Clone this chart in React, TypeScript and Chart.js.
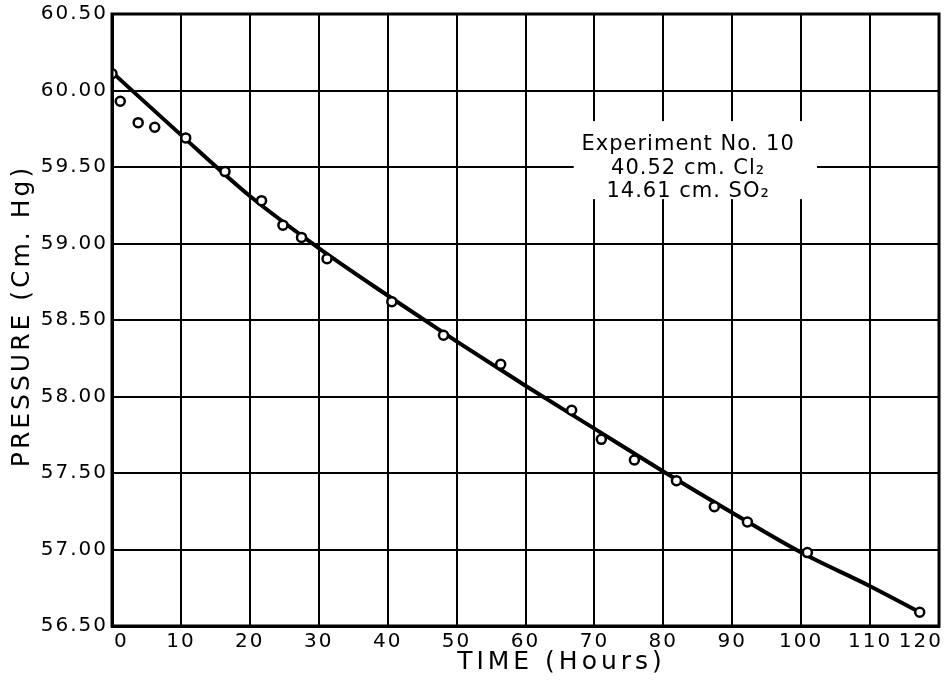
import { useEffect, useRef } from 'react';
import { Chart, registerables } from 'chart.js';

Chart.register(...registerables);

// Observed data points (open circles)
const timeHours = [0, 1.2, 3.8, 6.2, 10.7, 16.4, 21.7, 24.8, 27.5, 31.2, 40.6, 48.1, 56.4, 66.7, 71.0, 75.8, 81.9, 87.4, 92.2, 100.9, 117.2];
const pressure = [60.11, 59.93, 59.79, 59.76, 59.69, 59.47, 59.28, 59.12, 59.04, 58.90, 58.62, 58.40, 58.21, 57.91, 57.72, 57.585, 57.45, 57.28, 57.18, 56.98, 56.59];

// Smooth fitted curve
const curveHours = [0, 10, 20, 30, 40, 50, 60, 70, 80, 90, 100, 110, 117.2];
const curvePressure = [60.12, 59.71, 59.31, 58.97, 58.66, 58.36, 58.07, 57.79, 57.51, 57.24, 56.98, 56.76, 56.59];

// Axis ticks
const xTicks = [0, 10, 20, 30, 40, 50, 60, 70, 80, 90, 100, 110, 120];
const yTicks = [56.5, 57.0, 57.5, 58.0, 58.5, 59.0, 59.5, 60.0, 60.5];

const annotationLines = ['Experiment No. 10', '40.52 cm. Cl₂', '14.61 cm. SO₂'];
const xTitle = 'TIME (Hours)';
const yTitle = 'PRESSURE (Cm. Hg)';

const FONT = '"DejaVu Sans", sans-serif';

export default function App() {
  const ref = useRef<HTMLCanvasElement | null>(null);

  useEffect(() => {
    document.body.style.margin = '0';
    const canvas = ref.current;
    if (!canvas) return;

    const decorPlugin = {
      id: 'decor',
      beforeDraw(chart: any) {
        const ctx = chart.ctx;
        (ctx as any).letterSpacing = '2px';
        ctx.save();
        ctx.fillStyle = '#ffffff';
        ctx.fillRect(0, 0, chart.width, chart.height);
        ctx.restore();
      },
      beforeDatasetsDraw(chart: any) {
        const ctx = chart.ctx;
        const xs = chart.scales.x;
        const ys = chart.scales.y;
        // white label box over grid
        const x0 = xs.getPixelForValue(67);
        const x1 = xs.getPixelForValue(102.3);
        const y0 = ys.getPixelForValue(59.8);
        const y1 = ys.getPixelForValue(59.29);
        ctx.save();
        ctx.fillStyle = '#ffffff';
        ctx.fillRect(x0, y0, x1 - x0, y1 - y0);
        ctx.fillStyle = '#000000';
        ctx.font = `21px ${FONT}`;
        (ctx as any).letterSpacing = '1px';
        ctx.textAlign = 'center';
        ctx.textBaseline = 'middle';
        const cx = xs.getPixelForValue(83.6);
        const rows = [59.65, 59.49, 59.34];
        annotationLines.forEach((t, i) => {
          ctx.fillText(t, cx, ys.getPixelForValue(rows[i]));
        });
        ctx.restore();
      },
      afterDraw(chart: any) {
        const ctx = chart.ctx;
        const a = chart.chartArea;
        const xs = chart.scales.x;
        ctx.save();
        ctx.strokeStyle = '#000000';
        ctx.lineWidth = 3;
        ctx.strokeRect(a.left, a.top, a.right - a.left, a.bottom - a.top);
        ctx.fillStyle = '#000000';
        // x tick labels, kept inside the canvas at both ends
        ctx.font = `20px ${FONT}`;
        (ctx as any).letterSpacing = '2px';
        ctx.textAlign = 'left';
        ctx.textBaseline = 'middle';
        xTicks.forEach((v) => {
          const label = String(v);
          const w = ctx.measureText(label).width;
          let left = xs.getPixelForValue(v) - w / 2;
          if (left < a.left + 2) left = a.left + 2;
          if (left + w > chart.width - 1) left = chart.width - 1 - w;
          ctx.fillText(label, left, a.bottom + 16);
        });
        ctx.textAlign = 'center';
        ctx.font = `25px ${FONT}`;
        (ctx as any).letterSpacing = '4px';
        ctx.fillText(xTitle, (a.left + a.right) / 2 + 36, a.bottom + 36);
        ctx.translate(22, (a.top + a.bottom) / 2 - 4);
        ctx.rotate(-Math.PI / 2);
        (ctx as any).letterSpacing = '3px';
        ctx.fillText(yTitle, 0, 0);
        ctx.restore();
      },
    };

    const chart = new Chart(canvas, {
      type: 'scatter',
      data: {
        datasets: [
          {
            label: 'Observed',
            data: timeHours.map((x, i) => ({ x, y: pressure[i] })),
            showLine: false,
            pointRadius: 4.5,
            pointBorderWidth: 2.5,
            pointBackgroundColor: '#ffffff',
            pointBorderColor: '#000000',
            order: 0,
          },
          {
            label: 'Curve',
            data: curveHours.map((x, i) => ({ x, y: curvePressure[i] })),
            showLine: true,
            borderColor: '#000000',
            borderWidth: 4,
            pointRadius: 0,
            cubicInterpolationMode: 'monotone',
            order: 1,
          },
        ],
      },
      options: {
        responsive: false,
        animation: false,
        layout: { autoPadding: false, padding: { left: 0, right: 5, top: 14, bottom: 0 } },
        plugins: { legend: { display: false }, tooltip: { enabled: false } },
        scales: {
          x: {
            type: 'linear',
            min: 0,
            max: 120,
            afterBuildTicks: (s: any) => {
              s.ticks = xTicks.map((v) => ({ value: v }));
            },
            afterFit: (s: any) => {
              s.height = 55;
              s.paddingLeft = 0;
              s.paddingRight = 0;
            },
            grid: { color: '#000000', lineWidth: 2, drawTicks: false },
            border: { display: true, color: '#000000', width: 3 },
            ticks: {
              display: false,
              autoSkip: false,
            },
          },
          y: {
            type: 'linear',
            min: 56.5,
            max: 60.5,
            afterBuildTicks: (s: any) => {
              s.ticks = yTicks.map((v) => ({ value: v }));
            },
            afterFit: (s: any) => {
              s.width = 112;
              s.paddingTop = 0;
              s.paddingBottom = 0;
            },
            grid: { color: '#000000', lineWidth: 2, drawTicks: false },
            border: { display: true, color: '#000000', width: 3 },
            ticks: {
              color: '#000000',
              font: { family: FONT, size: 20 },
              padding: 4,
              autoSkip: false,
              callback: (v: any) => Number(v).toFixed(2),
            },
          },
        },
      },
      plugins: [decorPlugin],
    } as any);

    return () => chart.destroy();
  }, []);

  return <canvas ref={ref} width={944} height={681} style={{ display: 'block' }} />;
}
